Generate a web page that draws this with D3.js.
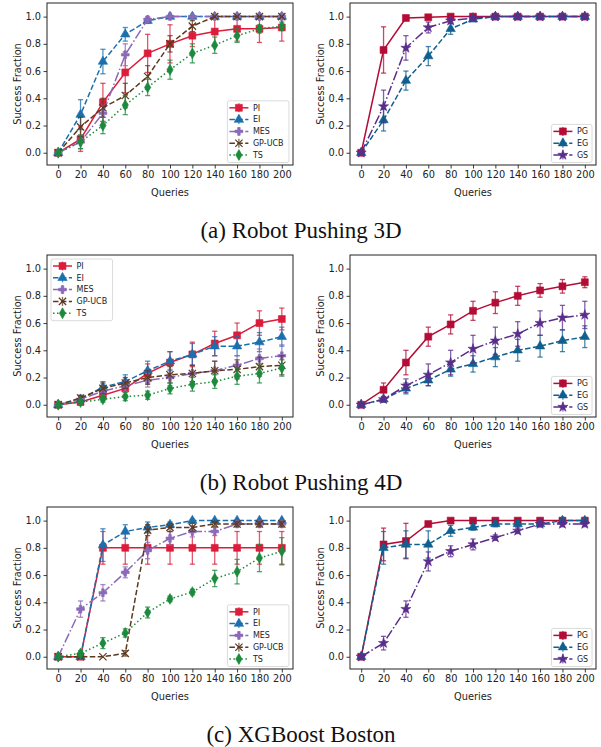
<!DOCTYPE html>
<html>
<head>
<meta charset="utf-8">
<script src="https://cdn.jsdelivr.net/npm/d3@7"></script>
<style>
  body { margin: 0; background: #fff; }
  text { font-family: "DejaVu Sans", sans-serif; }
</style>
</head>
<body>
<svg id="fig" width="601" height="747"></svg>
<script>
const queries = [0, 20, 40, 60, 80, 100, 120, 140, 160, 180, 200];
const yTicks = [0, 0.2, 0.4, 0.6, 0.8, 1.0];
const baseNames = ['PI', 'EI', 'MES', 'GP-UCB', 'TS'];
const oursNames = ['PG', 'EG', 'GS'];
const captions = ['(a) Robot Pushing 3D', '(b) Robot Pushing 4D', '(c) XGBoost Boston'];

// (a) robot pushing 3D
const a3PI = [0, 0.10, 0.37, 0.59, 0.73, 0.80, 0.86, 0.89, 0.91, 0.91, 0.92];
const a3PIErr = [0, 0.09, 0.14, 0.15, 0.14, 0.14, 0.08, 0.10, 0.09, 0.10, 0.10];
const a3EI = [0, 0.28, 0.67, 0.87, 0.97, 1, 1, 1, 1, 1, 1];
const a3EIErr = [0, 0.11, 0.09, 0.05, 0.02, 0, 0, 0, 0, 0, 0];
const a3MES = [0, 0.08, 0.29, 0.72, 0.98, 1, 1, 1, 1, 1, 1];
const a3MESErr = [0, 0.05, 0.06, 0.08, 0.02, 0, 0, 0, 0, 0, 0];
const a3UCB = [0, 0.19, 0.33, 0.42, 0.56, 0.80, 0.93, 1, 1, 1, 1];
const a3UCBErr = [0, 0.07, 0.07, 0.09, 0.08, 0.06, 0.04, 0, 0, 0, 0];
const a3TS = [0, 0.08, 0.20, 0.35, 0.48, 0.61, 0.73, 0.79, 0.86, 0.91, 0.93];
const a3TSErr = [0, 0.05, 0.06, 0.07, 0.06, 0.07, 0.07, 0.06, 0.05, 0.03, 0.03];
const a3PG = [0, 0.755, 0.99, 0.995, 1, 1, 1, 1, 1, 1, 1];
const a3PGErr = [0, 0.17, 0.01, 0.01, 0, 0, 0, 0, 0, 0, 0];
const a3EG = [0, 0.24, 0.53, 0.71, 0.91, 0.98, 1, 1, 1, 1, 1];
const a3EGErr = [0, 0.08, 0.07, 0.07, 0.04, 0.01, 0, 0, 0, 0, 0];
const a3GS = [0, 0.34, 0.77, 0.92, 0.97, 0.99, 1, 1, 1, 1, 1];
const a3GSErr = [0, 0.12, 0.09, 0.04, 0.02, 0.01, 0, 0, 0, 0, 0];

// (b) robot pushing 4D
const b4PI = [0, 0.02, 0.07, 0.12, 0.23, 0.31, 0.37, 0.45, 0.51, 0.60, 0.63];
const b4PIErr = [0, 0.02, 0.03, 0.05, 0.07, 0.08, 0.09, 0.09, 0.09, 0.09, 0.08];
const b4EI = [0, 0.04, 0.13, 0.17, 0.25, 0.32, 0.37, 0.43, 0.43, 0.46, 0.50];
const b4EIErr = [0, 0.02, 0.04, 0.05, 0.07, 0.07, 0.08, 0.07, 0.07, 0.07, 0.07];
const b4MES = [0, 0.04, 0.10, 0.14, 0.18, 0.20, 0.23, 0.25, 0.29, 0.34, 0.36];
const b4MESErr = [0, 0.02, 0.03, 0.04, 0.05, 0.06, 0.06, 0.07, 0.07, 0.07, 0.08];
const b4UCB = [0, 0.05, 0.12, 0.16, 0.20, 0.22, 0.23, 0.25, 0.26, 0.28, 0.29];
const b4UCBErr = [0, 0.02, 0.04, 0.04, 0.05, 0.06, 0.06, 0.07, 0.07, 0.07, 0.07];
const b4TS = [0, 0.02, 0.04, 0.06, 0.07, 0.12, 0.15, 0.17, 0.21, 0.23, 0.27];
const b4TSErr = [0, 0.01, 0.02, 0.03, 0.03, 0.04, 0.05, 0.05, 0.06, 0.07, 0.06];
const b4PG = [0, 0.11, 0.31, 0.50, 0.59, 0.69, 0.75, 0.80, 0.84, 0.87, 0.90];
const b4PGErr = [0, 0.05, 0.09, 0.07, 0.07, 0.07, 0.08, 0.07, 0.05, 0.05, 0.04];
const b4EG = [0, 0.04, 0.12, 0.18, 0.26, 0.30, 0.35, 0.40, 0.43, 0.47, 0.50];
const b4EGErr = [0, 0.02, 0.04, 0.04, 0.05, 0.06, 0.07, 0.08, 0.08, 0.08, 0.08];
const b4GS = [0, 0.04, 0.14, 0.22, 0.31, 0.41, 0.47, 0.52, 0.60, 0.64, 0.66];
const b4GSErr = [0, 0.02, 0.05, 0.08, 0.09, 0.10, 0.10, 0.09, 0.09, 0.09, 0.10];

// (c) xgboost boston
const cxPI = [0, 0, 0.80, 0.80, 0.80, 0.80, 0.80, 0.80, 0.80, 0.80, 0.80];
const cxPIErr = [0, 0, 0.12, 0.12, 0.12, 0.12, 0.12, 0.12, 0.12, 0.12, 0.12];
const cxEI = [0, 0, 0.82, 0.92, 0.95, 0.97, 1, 1, 1, 1, 1];
const cxEIErr = [0, 0, 0.12, 0.05, 0.04, 0.02, 0.01, 0, 0, 0, 0];
const cxMES = [0, 0.35, 0.47, 0.62, 0.78, 0.87, 0.92, 0.92, 0.975, 0.975, 0.975];
const cxMESErr = [0, 0.06, 0.06, 0.04, 0.06, 0.05, 0.04, 0.03, 0.02, 0.02, 0.02];
const cxUCB = [0, 0, 0, 0.025, 0.93, 0.95, 0.95, 0.975, 0.975, 0.975, 0.975];
const cxUCBErr = [0, 0, 0, 0.02, 0.04, 0.03, 0.03, 0.02, 0.02, 0.02, 0.02];
const cxTS = [0, 0.025, 0.10, 0.175, 0.325, 0.425, 0.475, 0.575, 0.625, 0.725, 0.775];
const cxTSErr = [0, 0.02, 0.04, 0.03, 0.04, 0.02, 0.02, 0.06, 0.09, 0.10, 0.10];
const cxPG = [0, 0.825, 0.85, 0.975, 1, 1, 1, 1, 1, 1, 1];
const cxPGErr = [0, 0.12, 0.13, 0.01, 0, 0, 0, 0, 0, 0, 0];
const cxEG = [0, 0.80, 0.825, 0.825, 0.925, 0.95, 0.975, 0.975, 0.975, 1, 1];
const cxEGErr = [0, 0.12, 0.10, 0.10, 0.04, 0.02, 0.02, 0.02, 0.02, 0, 0];
const cxGS = [0, 0.10, 0.35, 0.70, 0.775, 0.825, 0.875, 0.925, 0.975, 0.975, 0.975];
const cxGSErr = [0, 0.05, 0.06, 0.07, 0.04, 0.04, 0.02, 0.02, 0.02, 0.02, 0.02];

const style = {
  'PI':     { color: '#dc1c3b', dash: null,              symbol: d3.symbolSquare,   size: 48, fill: true },
  'EI':     { color: '#1b6fad', dash: '5.5,2.4',         symbol: d3.symbolTriangle, size: 38, fill: true },
  'MES':    { color: '#8a6ab8', dash: '9.6,2.4,1.5,2.4', symbol: d3.symbolCross,    size: 34, fill: true },
  'GP-UCB': { color: '#5c3a1e', dash: '5.5,2.4',         symbol: d3.symbolTimes,    size: 36, fill: false },
  'TS':     { color: '#1b8a3c', dash: '1.5,2.5',         symbol: d3.symbolDiamond,  size: 34, fill: true },
  'PG':     { color: '#b30c35', dash: null,              symbol: d3.symbolSquare,   size: 48, fill: true },
  'EG':     { color: '#0f5f8f', dash: '5.5,2.4',         symbol: d3.symbolTriangle, size: 38, fill: true },
  'GS':     { color: '#5a2d8c', dash: '9.6,2.4,1.5,2.4', symbol: d3.symbolStar,     size: 32, fill: true }
};

const panels = [
  { row: 0, col: 0, names: baseNames, means: [a3PI, a3EI, a3MES, a3UCB, a3TS], errs: [a3PIErr, a3EIErr, a3MESErr, a3UCBErr, a3TSErr], legend: 'lr' },
  { row: 0, col: 1, names: oursNames, means: [a3PG, a3EG, a3GS], errs: [a3PGErr, a3EGErr, a3GSErr], legend: 'lr' },
  { row: 1, col: 0, names: baseNames, means: [b4PI, b4EI, b4MES, b4UCB, b4TS], errs: [b4PIErr, b4EIErr, b4MESErr, b4UCBErr, b4TSErr], legend: 'ul' },
  { row: 1, col: 1, names: oursNames, means: [b4PG, b4EG, b4GS], errs: [b4PGErr, b4EGErr, b4GSErr], legend: 'lr' },
  { row: 2, col: 0, names: baseNames, means: [cxPI, cxEI, cxMES, cxUCB, cxTS], errs: [cxPIErr, cxEIErr, cxMESErr, cxUCBErr, cxTSErr], legend: 'lr' },
  { row: 2, col: 1, names: oursNames, means: [cxPG, cxEG, cxGS], errs: [cxPGErr, cxEGErr, cxGSErr], legend: 'lr' }
];

const svg = d3.select('#fig');
const colLeft = [47, 350];
const rowTop = [3, 255, 507];
const W = 246;
const H = 162;

const x = d3.scaleLinear().domain([-10, 210]).range([0, W]);
const y = d3.scaleLinear().domain([-0.09, 1.1]).range([H, 0]);

const line = d3.line().x((d, i) => x(queries[i])).y((d) => y(d));

panels.forEach((p) => {
  const g = svg.append('g')
    .attr('transform', `translate(${colLeft[p.col]},${rowTop[p.row]})`);

  const clip = `clip-${p.row}-${p.col}`;
  g.append('clipPath').attr('id', clip)
    .append('rect').attr('width', W).attr('height', H);

  const plot = g.append('g').attr('clip-path', `url(#${clip})`);

  p.names.forEach((name, k) => {
    const s = style[name];
    const mean = p.means[k];
    const err = p.errs[k];
    const sg = plot.append('g');

    sg.append('path')
      .attr('d', line(mean))
      .attr('fill', 'none')
      .attr('stroke', s.color)
      .attr('stroke-width', 1.5)
      .attr('stroke-dasharray', s.dash);

    const bars = sg.selectAll('.eb')
      .data(mean.map((m, i) => ({ q: queries[i], m, e: err[i] })).filter((d) => d.e > 0))
      .enter().append('g')
      .attr('stroke', s.color)
      .attr('stroke-opacity', 0.75)
      .attr('stroke-width', 1.3);
    bars.append('line')
      .attr('x1', (d) => x(d.q)).attr('x2', (d) => x(d.q))
      .attr('y1', (d) => y(d.m - d.e)).attr('y2', (d) => y(d.m + d.e));
    bars.append('line')
      .attr('x1', (d) => x(d.q) - 2.6).attr('x2', (d) => x(d.q) + 2.6)
      .attr('y1', (d) => y(d.m - d.e)).attr('y2', (d) => y(d.m - d.e));
    bars.append('line')
      .attr('x1', (d) => x(d.q) - 2.6).attr('x2', (d) => x(d.q) + 2.6)
      .attr('y1', (d) => y(d.m + d.e)).attr('y2', (d) => y(d.m + d.e));

    sg.selectAll('.mk')
      .data(mean)
      .enter().append('path')
      .attr('d', d3.symbol().type(s.symbol).size(s.size))
      .attr('transform', (d, i) => `translate(${x(queries[i])},${y(d)})`)
      .attr('fill', s.fill ? s.color : 'none')
      .attr('stroke', s.color)
      .attr('stroke-width', s.fill ? 0.6 : 1.2);
  });

  // axes
  const xAxis = g.append('g')
    .attr('transform', `translate(0,${H})`)
    .call(d3.axisBottom(x).tickValues(queries).tickSize(3.5).tickPadding(2.5).tickFormat(d3.format('d')));
  const yAxis = g.append('g')
    .call(d3.axisLeft(y).tickValues(yTicks).tickSize(3.5).tickPadding(2.5).tickFormat(d3.format('.1f')));
  [xAxis, yAxis].forEach((a) => {
    a.select('.domain').remove();
    a.selectAll('line').attr('stroke', '#222').attr('stroke-width', 0.9);
    a.selectAll('text').attr('fill', '#222').style('font-size', '9.8px').style('font-family', '"DejaVu Sans", sans-serif');
  });

  g.append('rect')
    .attr('width', W).attr('height', H)
    .attr('fill', 'none')
    .attr('stroke', '#222')
    .attr('stroke-width', 1);

  g.append('text')
    .attr('x', W / 2).attr('y', H + 30.5)
    .attr('text-anchor', 'middle')
    .attr('fill', '#222')
    .style('font-size', '9.8px')
    .text('Queries');

  g.append('text')
    .attr('transform', `translate(-26,${H / 2}) rotate(-90)`)
    .attr('text-anchor', 'middle')
    .attr('fill', '#222')
    .style('font-size', '9.8px')
    .text('Success Fraction');

  // legend
  const n = p.names.length;
  const lw = n === 5 ? 61.6 : 40.6;
  const lh = 7 + (n - 1) * 11.8 + 7.5;
  const lx = p.legend === 'ul' ? 4 : W - 4 - lw;
  const ly = p.legend === 'ul' ? 4 : H - 2.5 - lh;
  const leg = g.append('g').attr('transform', `translate(${lx},${ly})`);
  leg.append('rect')
    .attr('width', lw).attr('height', lh)
    .attr('rx', 2)
    .attr('fill', '#fff').attr('fill-opacity', 0.85)
    .attr('stroke', '#d0d0d0').attr('stroke-width', 0.8);
  p.names.forEach((name, k) => {
    const s = style[name];
    const ey = 7 + k * 11.8;
    const it = leg.append('g').attr('transform', `translate(0,${ey})`);
    it.append('line')
      .attr('x1', 2).attr('x2', 21)
      .attr('stroke', s.color).attr('stroke-width', 1.5)
      .attr('stroke-dasharray', s.dash);
    it.append('line')
      .attr('x1', 11.5).attr('x2', 11.5).attr('y1', -4.5).attr('y2', 4.5)
      .attr('stroke', s.color).attr('stroke-opacity', 0.75).attr('stroke-width', 1.3);
    it.append('path')
      .attr('d', d3.symbol().type(s.symbol).size(s.size))
      .attr('transform', 'translate(11.5,0)')
      .attr('fill', s.fill ? s.color : 'none')
      .attr('stroke', s.color)
      .attr('stroke-width', s.fill ? 0.6 : 1.2);
    it.append('text')
      .attr('x', 25.5).attr('y', 0).attr('dy', '0.35em')
      .attr('fill', '#222')
      .style('font-size', '8px')
      .text(name);
  });
});

captions.forEach((c, i) => {
  svg.append('text')
    .attr('x', 301).attr('y', rowTop[i] + 234.7)
    .attr('text-anchor', 'middle')
    .attr('fill', '#111')
    .style('font-family', '"Liberation Serif", "Times New Roman", serif')
    .style('font-size', '23px')
    .text(c);
});
</script>
</body>
</html>
